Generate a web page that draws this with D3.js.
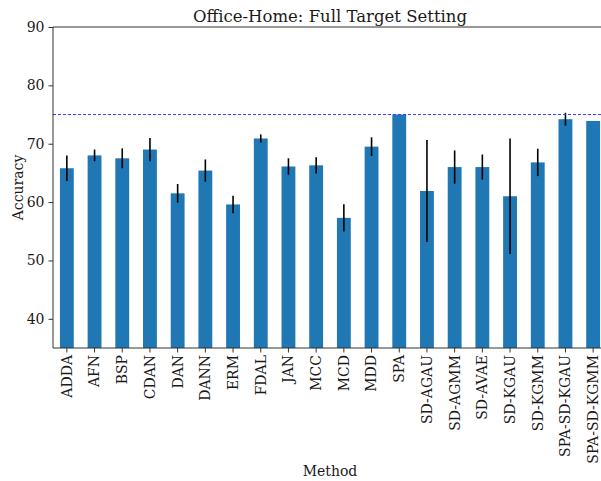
<!DOCTYPE html>
<html><head><meta charset="utf-8">
<script src="https://cdn.jsdelivr.net/npm/d3@7"></script>
<style>body{margin:0;background:#fff}svg{display:block}text{font-family:"DejaVu Serif",serif;fill:#1a1a1a}</style>
</head><body>
<script>
const methods = ["ADDA","AFN","BSP","CDAN","DAN","DANN","ERM","FDAL","JAN","MCC","MCD","MDD","SPA","SD-AGAU","SD-AGMM","SD-AVAE","SD-KGAU","SD-KGMM","SPA-SD-KGAU","SPA-SD-KGMM"];
const accuracy = [65.8,68.0,67.5,69.0,61.5,65.4,59.6,70.9,66.1,66.3,57.3,69.5,75.0,61.9,66.0,66.0,61.0,66.8,74.2,73.9];
const errors = [2.2,1.0,1.7,2.0,1.6,1.9,1.5,0.7,1.4,1.4,2.35,1.6,0.0,8.75,2.85,2.15,9.9,2.35,1.1,0.0];
const yTicks = [40,50,60,70,80,90];
const referenceLine = 75.0;
const title = "Office-Home: Full Target Setting";

const W = 601, H = 481;
const m = {left:53, top:27, right:607, bottom:348};
const svg = d3.select("body").append("svg").attr("width",W).attr("height",H);

const x = d3.scaleBand().domain(methods).range([m.left,m.right]).paddingInner(0.5).paddingOuter(0.25);
const y = d3.scaleLinear().domain([35,90]).range([m.bottom,m.top]);

// bars
svg.append("g").selectAll("rect").data(methods).join("rect")
  .attr("x",d=>x(d)).attr("width",x.bandwidth())
  .attr("y",(d,i)=>y(accuracy[i])).attr("height",(d,i)=>m.bottom-y(accuracy[i]))
  .attr("fill","#1f77b4");

// error bars
svg.append("g").selectAll("line").data(methods.filter((d,i)=>errors[i]>0)).join("line")
  .attr("x1",d=>x(d)+x.bandwidth()/2).attr("x2",d=>x(d)+x.bandwidth()/2)
  .attr("y1",d=>y(accuracy[methods.indexOf(d)]-errors[methods.indexOf(d)]))
  .attr("y2",d=>y(accuracy[methods.indexOf(d)]+errors[methods.indexOf(d)]))
  .attr("stroke","#000").attr("stroke-width",1.6);

// reference line
svg.append("line").attr("x1",m.left).attr("x2",m.right)
  .attr("y1",y(referenceLine)).attr("y2",y(referenceLine))
  .attr("stroke","#3b3bff").attr("stroke-width",1).attr("stroke-dasharray","3,2");

// axes
const yAxis = svg.append("g").attr("transform",`translate(${m.left},0)`)
  .call(d3.axisLeft(y).tickValues(yTicks).tickSize(4.5).tickPadding(4));
yAxis.selectAll("text").style("font-size","14px").style("font-family","DejaVu Serif");
const xAxis = svg.append("g").attr("transform",`translate(0,${m.bottom})`)
  .call(d3.axisBottom(x).tickSize(4.5).tickPadding(4));
xAxis.selectAll("text").style("font-size","14px").style("font-family","DejaVu Serif")
  .attr("transform","rotate(-90)").attr("text-anchor","end").attr("dy","0.35em").attr("x",-7).attr("y",0);
svg.selectAll(".domain").remove();
svg.selectAll(".tick line").attr("stroke","#333").attr("stroke-width",1);

// spines
const sp = svg.append("g").attr("stroke","#333").attr("stroke-width",1).attr("fill","none");
sp.append("path").attr("d",`M${m.left},${m.bottom}H${m.right}`);
sp.append("path").attr("d",`M${m.left},${m.top}H${m.right}`);
sp.append("path").attr("d",`M${m.left},${m.top}V${m.bottom}`);

// labels
svg.append("text").attr("x",(m.left+m.right)/2).attr("y",22).attr("text-anchor","middle")
  .style("font-size","16.5px").text(title);
svg.append("text").attr("transform",`translate(23,${(m.top+m.bottom)/2}) rotate(-90)`)
  .attr("text-anchor","middle").style("font-size","14px").text("Accuracy");
svg.append("text").attr("x",(m.left+m.right)/2).attr("y",476).attr("text-anchor","middle")
  .style("font-size","14px").text("Method");
</script>
</body></html>
